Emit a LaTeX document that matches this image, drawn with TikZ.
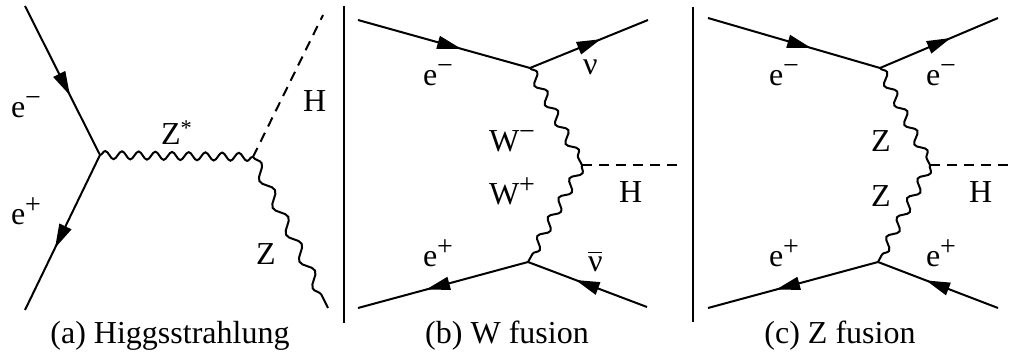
\documentclass[tikz,border=0pt]{standalone}
\usepackage{graphicx}
\usepackage{fontspec}
\setmainfont{Liberation Serif}
\usetikzlibrary{decorations.pathmorphing,decorations.markings,arrows.meta}
\newcommand\mynubar{\setbox0=\hbox{ν}\vbox{\offinterlineskip\hbox to\wd0{\hss\rule{14pt}{1.8pt}\hss}\kern4pt\copy0}}
\newcommand\mysup[1]{\raisebox{11pt}{\fontsize{28}{28}\selectfont #1}}
\begin{document}
\begin{tikzpicture}[x=1pt,y=-1pt,line width=2pt,
  fermion/.style={postaction={decorate},decoration={markings,
      mark=at position 0.6 with {\arrow{Triangle[length=24pt,width=13pt]}}}},
  bosonA/.style={decorate,decoration={snake,segment length=16.7pt,amplitude=4pt}},
  bosonZ/.style={decorate,decoration={snake,segment length=30pt,amplitude=5pt}},
  bosonW/.style={decorate,decoration={snake,segment length=22pt,amplitude=4.5pt}},
  scalar/.style={dash pattern=on 10pt off 7pt},
  sep/.style={line width=2pt},
  lbl/.style={inner sep=0pt,font=\fontsize{32}{38}\selectfont},
]
\useasboundingbox (0,0) rectangle (1015,358);
% ---------- (a) ----------
\coordinate (a1) at (25,6);
\coordinate (av) at (100,155);
\coordinate (a2) at (25,310);
\coordinate (aw) at (253,157);
\coordinate (aH) at (323,15);
\coordinate (aZ) at (328,308);
\draw[fermion] (a1) -- (av);
\draw[fermion] (av) -- (a2);
\draw[bosonA] (av) -- (aw);
\draw[scalar] (aw) -- (aH);
\draw[bosonZ] (aw) -- (aZ);
\node[lbl,anchor=base west] (la1) at (10,118) {e\mysup{−}};
\node[lbl,anchor=base west] (la2) at (10,225) {e\mysup{+}};
\node[lbl,anchor=base west] (la3) at (160,145) {Z\textsuperscript{*}};
\node[lbl,anchor=base west] (la4) at (302,112) {H};
\node[lbl,anchor=base west] (la5) at (255,265) {Z};
\node[lbl,anchor=base] (capa) at (170,343) {(a) Higgsstrahlung};
% separator
\coordinate (s1t) at (344,6);
\coordinate (s1b) at (344,323);
\draw[sep] (s1t) -- (s1b);
% ---------- (b) ----------
\coordinate (b1) at (358,20);
\coordinate (bv1) at (530,68);
\coordinate (b2) at (648,20);
\coordinate (bv) at (582,165);
\coordinate (bH) at (677,165);
\coordinate (bv2) at (528,262);
\coordinate (b3) at (358,308);
\coordinate (b4) at (647,307);
\draw[fermion] (b1) -- (bv1);
\draw[fermion] (bv1) -- (b2);
\draw[fermion] (bv2) -- (b3);
\draw[fermion] (b4) -- (bv2);
\draw[bosonW] (bv1) -- (bv);
\draw[bosonW] (bv) -- (bv2);
\draw[scalar] (bv) -- (bH);
\node[lbl,anchor=base west] (lb1) at (422,86) {e\mysup{−}};
\node[lbl,anchor=base west] (lb2) at (582,75) {ν};
\node[lbl,anchor=base west] (lb3) at (488,152) {W\mysup{−}};
\node[lbl,anchor=base west] (lb4) at (488,205) {W\mysup{+}};
\node[lbl,anchor=base west] (lb5) at (618,203) {H};
\node[lbl,anchor=base west] (lb6) at (422,267) {e\mysup{+}};
\node[lbl,anchor=base west] (lb7) at (587,272) {\mynubar};
\node[lbl,anchor=base] (capb) at (507,343) {(b) W fusion};
% separator
\coordinate (s2t) at (693,7);
\coordinate (s2b) at (693,322);
\draw[sep] (s2t) -- (s2b);
% ---------- (c) ----------
\coordinate (c1) at (708,18);
\coordinate (cv1) at (880,68);
\coordinate (c2) at (998,18);
\coordinate (cv) at (930,165);
\coordinate (cH) at (1012,165);
\coordinate (cv2) at (878,262);
\coordinate (c3) at (708,308);
\coordinate (c4) at (998,308);
\draw[fermion] (c1) -- (cv1);
\draw[fermion] (cv1) -- (c2);
\draw[fermion] (cv2) -- (c3);
\draw[fermion] (c4) -- (cv2);
\draw[bosonW] (cv1) -- (cv);
\draw[bosonW] (cv) -- (cv2);
\draw[scalar] (cv) -- (cH);
\node[lbl,anchor=base west] (lc1) at (768,86) {e\mysup{−}};
\node[lbl,anchor=base west] (lc2) at (925,86) {e\mysup{−}};
\node[lbl,anchor=base west] (lc3) at (870,152) {Z};
\node[lbl,anchor=base west] (lc4) at (870,207) {Z};
\node[lbl,anchor=base west] (lc5) at (968,203) {H};
\node[lbl,anchor=base west] (lc6) at (768,267) {e\mysup{+}};
\node[lbl,anchor=base west] (lc7) at (925,267) {e\mysup{+}};
\node[lbl,anchor=base] (capc) at (840,343) {(c) Z fusion};
\end{tikzpicture}
\end{document}
